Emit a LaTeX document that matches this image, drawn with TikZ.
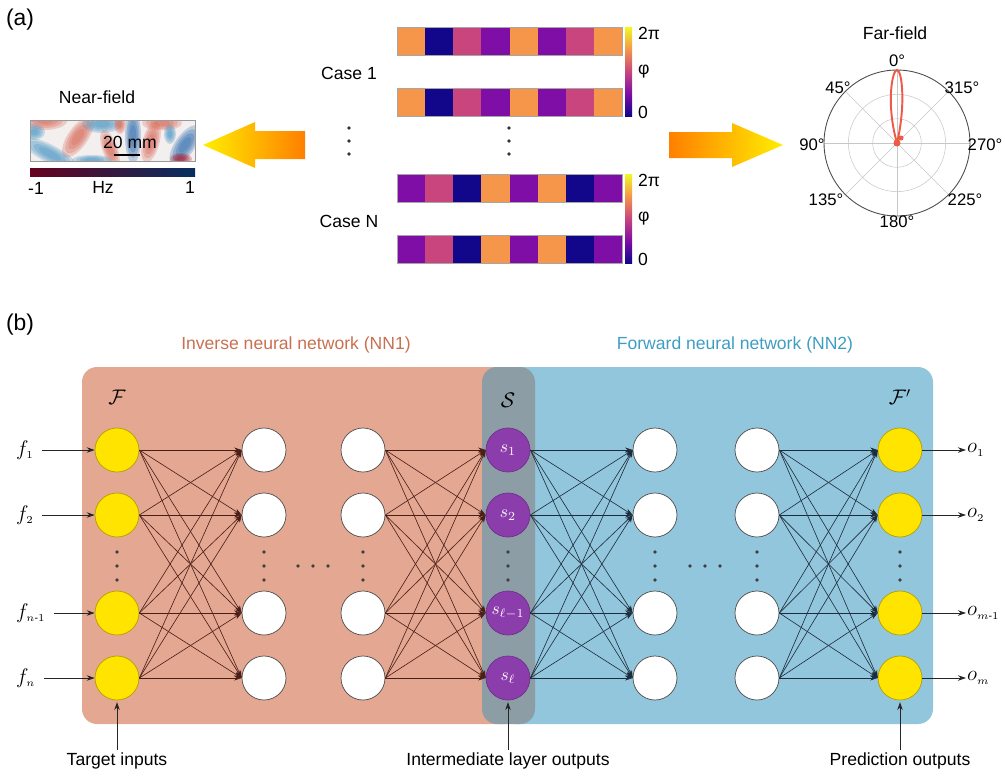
\documentclass[tikz,border=0pt]{standalone}
\usepackage{amsmath,amssymb}
\usepackage{fontspec}
\setmainfont{Liberation Sans}
\usepackage{xcolor}
\usepackage{tikz}
\usetikzlibrary{arrows.meta,positioning}

\definecolor{pnavy}{HTML}{12078A}
\definecolor{ppurple}{HTML}{7E0EA6}
\definecolor{ppink}{HTML}{C8467D}
\definecolor{porange}{HTML}{F5964A}
\definecolor{pyellow}{HTML}{F0F921}
\definecolor{arrowyellow}{HTML}{FFEE00}
\definecolor{arroworange}{HTML}{FF7F00}
\definecolor{nfbg}{HTML}{F4EFEF}
\definecolor{nfred}{HTML}{D6604D}
\definecolor{nfdred}{HTML}{A50F26}
\definecolor{nfblue}{HTML}{4393C3}
\definecolor{nfdblue}{HTML}{2166AC}
\definecolor{cbred}{HTML}{67001F}
\definecolor{cbblue}{HTML}{053061}
\definecolor{lobered}{HTML}{EE5A48}
\definecolor{salmonbg}{HTML}{E3A792}
\definecolor{bluebg}{HTML}{92C6DC}
\definecolor{graybg}{HTML}{8C9DA5}
\definecolor{nnonecol}{HTML}{C8704F}
\definecolor{nntwocol}{HTML}{3E9EC2}
\definecolor{unityellow}{HTML}{FFE400}
\definecolor{midpurple}{HTML}{8B3DAB}
\definecolor{linkbrown}{HTML}{4A1E16}
\definecolor{linknavy}{HTML}{1C2C3C}

\pgfdeclareverticalshading{plasmav}{100bp}{color(0bp)=(pnavy); color(25bp)=(pnavy); color(37.5bp)=(ppurple); color(50bp)=(ppink); color(62.5bp)=(porange); color(75bp)=(pyellow); color(100bp)=(pyellow)}

\begin{document}
\begin{tikzpicture}[
  x=0.02cm, y=-0.02cm,
  font=\fontsize{10}{12}\selectfont,
  caption/.style={inner sep=1pt},
  panel/.style={inner sep=1pt, font=\fontsize{13}{15}\selectfont},
  inunit/.style={circle, fill=unityellow, draw=unityellow!70!black, line width=0.4pt, minimum size=0.88cm, inner sep=0pt},
  hidunit/.style={circle, fill=white, draw=black!70, line width=0.4pt, minimum size=0.88cm, inner sep=0pt},
  midunit/.style={circle, fill=midpurple, draw=midpurple!80!black, line width=0.4pt, minimum size=0.88cm, inner sep=0pt, text=white!92!pink},
  vlab/.style={inner sep=0.5pt, font=\fontsize{12}{14}\selectfont},
  linkA/.style={-{Stealth[length=1.5mm, width=1mm]}, line width=0.35pt, draw=linkbrown},
  linkB/.style={-{Stealth[length=1.5mm, width=1mm]}, line width=0.35pt, draw=linknavy},
  feed/.style={-{Stealth[length=1.6mm, width=1.1mm]}, line width=0.5pt, draw=black!85}
]
\useasboundingbox (0,0) rectangle (1005,779);

% ---------- (a) ----------
\node[panel] (lbla) at (20,20) {(a)};

% near field
\node[caption] (nftitle) at (97,97) {Near-field};
\begin{scope}
  \clip (30,120) rectangle (195,161);
  \fill[nfbg] (30,120) rectangle (195,161);
  \foreach \px/\py/\rx/\ry/\rot/\col in {
      45/120/0.45/0.2/0/nfred, 34/132/0.22/0.16/0/nfblue,
      78/137/0.2/0.48/-35/nfred, 50/154/0.62/0.18/-28/nfblue,
      102/124/0.4/0.18/0/nfblue, 110/149/0.15/0.4/20/nfred,
      133/136/0.16/0.55/0/nfdblue, 151/142/0.17/0.42/-15/nfred,
      162/123/0.4/0.15/0/nfred, 185/145/0.2/0.46/-35/nfdblue,
      181/159/0.22/0.12/0/nfdred, 92/160/0.4/0.1/0/nfblue,
      120/124/0.12/0.2/0/nfred, 170/134/0.12/0.2/0/nfblue}{
    \foreach \s in {1,0.8,0.6,0.4}
      \fill[\col, opacity=0.26, rotate around={\rot:(\px,\py)}] (\px,\py) ellipse [x radius=\s*\rx cm, y radius=\s*\ry cm];
  }
\end{scope}
\draw[black!40, line width=0.3pt] (30,120) rectangle (195,161);
\node[caption, font=\fontsize{10}{12}\selectfont] (scale) at (130,142) {20 mm};
\draw[line width=1.2pt] (114,155) -- (140,155);
\shade[left color=cbred, middle color=white, right color=cbblue] (30,168) rectangle (195,176);
\node[caption] (cbmin) at (36,188) {-1};
\node[caption] (cbunit) at (103,187) {Hz};
\node[caption] (cbmax) at (190,187) {1};

% arrows
\shade[left color=arrowyellow, right color=arroworange] (203,145) -- (255,122) -- (255,131) -- (305,131) -- (305,159) -- (255,159) -- (255,168) -- cycle;
\shade[left color=arroworange, right color=arrowyellow] (669,132) -- (732,132) -- (732,123) -- (783,145) -- (732,167) -- (732,158) -- (669,158) -- cycle;

% phase cases
\foreach \yt in {27,88}{
  \foreach \c [count=\k from 0] in {porange,pnavy,ppink,ppurple,porange,ppurple,ppink,porange}
    \fill[\c] (397+28.125*\k,\yt) rectangle ++(28.125,28);
  \draw[black!35, line width=0.3pt] (397,\yt) rectangle ++(225,28);
}
\foreach \yt in {174,235}{
  \foreach \c [count=\k from 0] in {ppurple,ppink,pnavy,porange,ppurple,porange,pnavy,ppurple}
    \fill[\c] (397+28.125*\k,\yt) rectangle ++(28.125,28);
  \draw[black!35, line width=0.3pt] (397,\yt) rectangle ++(225,28);
}
\foreach \yt in {27,174}{
  \shade[shading=plasmav] (625,\yt) rectangle (632,\yt+89);
  \node[caption, anchor=west] at (636,\yt+6) {2π};
  \node[caption, anchor=west] at (636,\yt+45) {φ};
  \node[caption, anchor=west] at (636,\yt+85) {0};
}
\node[caption] (case1) at (349,73) {Case 1};
\node[caption] (caseN) at (349,221) {Case N};
\foreach \xd in {349,509}
  \foreach \yd in {128,141,154}
    \fill[black!80] (\xd,\yd) circle (1.1pt);

% far field
\node[caption] (fftitle) at (895,33) {Far-field};
\coordinate (ffc) at (897,143);
\draw[black!22, line width=0.3pt] (ffc) circle (0.487cm) (ffc) circle (0.973cm);
\foreach \a in {0,45,90,135}
  \draw[black!22, line width=0.3pt] (ffc) ++(\a:1.46cm) -- ++(\a+180:2.92cm);
\draw[black!70, line width=0.5pt] (ffc) circle (1.46cm);
\draw[lobered, line width=1.1pt] (897,143) .. controls (886,105) and (892,70) .. (897,70) .. controls (902,70) and (906,105) .. (897,143);
\fill[lobered] (897,143) circle (0.07cm);
\fill[lobered] (901,138) circle (0.05cm);
\begin{scope}[font=\fontsize{9.5}{11}\selectfont]
\node[caption] (ff0) at (897,61) {0°};
\node[caption] (ff45) at (838,88) {45°};
\node[caption] (ff315) at (962,88) {315°};
\node[caption] (ff90) at (812,145) {90°};
\node[caption] (ff270) at (985,145) {270°};
\node[caption] (ff135) at (826,200) {135°};
\node[caption] (ff225) at (965,200) {225°};
\node[caption] (ff180) at (897,222) {180°};
\end{scope}

% ---------- (b) ----------
\node[panel] (lblb) at (20,325) {(b)};
\node[caption, text=nnonecol] (nnone) at (296,345) {Inverse neural network (NN1)};
\node[caption, text=nntwocol] (nntwo) at (735,345) {Forward neural network (NN2)};

\fill[salmonbg, rounded corners=0.3cm] (82,367) rectangle (520,724);
\fill[bluebg, rounded corners=0.3cm] (500,367) rectangle (933,724);
\fill[graybg, rounded corners=0.3cm] (482,367) rectangle (535,724);

\node[font=\fontsize{12}{14}\selectfont] (setF) at (117,397) {$\mathcal{F}$};
\node[font=\fontsize{12}{14}\selectfont] (setS) at (508,400) {$\mathcal{S}$};
\node[font=\fontsize{12}{14}\selectfont] (setFp) at (900,397) {$\mathcal{F}'$};

% layers
\foreach \r/\y/\fl/\sl/\ol in {1/450/1/1/1, 2/515/2/2/2, 3/613/{n\text{-}1}/{\ell-1}/{m\text{-}1}, 4/678/n/\ell/m}{
  \node[inunit] (in\r) at (117,\y) {};
  \node[hidunit] (ha\r) at (264,\y) {};
  \node[hidunit] (hb\r) at (363,\y) {};
  \node[midunit] (s\r) at (508,\y) {$s_{\sl}$};
  \node[hidunit] (ga\r) at (655,\y) {};
  \node[hidunit] (gb\r) at (757,\y) {};
  \node[inunit] (out\r) at (900,\y) {};
  \node[vlab, anchor=west] (f\r) at (15,\y) {$f_{\scriptscriptstyle\fl}$};
  \node[vlab, anchor=west] (o\r) at (966,\y) {$o_{\scriptscriptstyle\ol}$};
  \draw[feed, shorten <=4pt] (f\r.east) -- (in\r);
  \draw[feed] (out\r) -- (o\r);
}

% full connections
\foreach \i in {1,...,4}{
  \foreach \j in {1,...,4}{
    \draw[linkA] (in\i.east) -- (ha\j.west);
    \draw[linkA] (hb\i.east) -- (s\j.west);
    \draw[linkB] (s\i.east) -- (ga\j.west);
    \draw[linkB] (gb\i.east) -- (out\j.west);
  }
}

% ellipsis dots
\foreach \xd in {117,264,363,508,655,757,900}
  \foreach \yd in {552,566,580}
    \fill[black!75] (\xd,\yd) circle (1.1pt);
\foreach \xd in {298,313,328,690,705,720}
  \fill[black!75] (\xd,566) circle (1.1pt);

% bottom captions
\node[caption, below=1cm of in4] (tgt) {Target inputs};
\node[caption, below=1cm of s4] (mid) {Intermediate layer outputs};
\node[caption, below=1cm of out4] (pred) {Prediction outputs};
\draw[feed, shorten >=1pt] (tgt) -- (in4);
\draw[feed, shorten >=1pt] (mid) -- (s4);
\draw[feed, shorten >=1pt] (pred) -- (out4);
\end{tikzpicture}
\end{document}
